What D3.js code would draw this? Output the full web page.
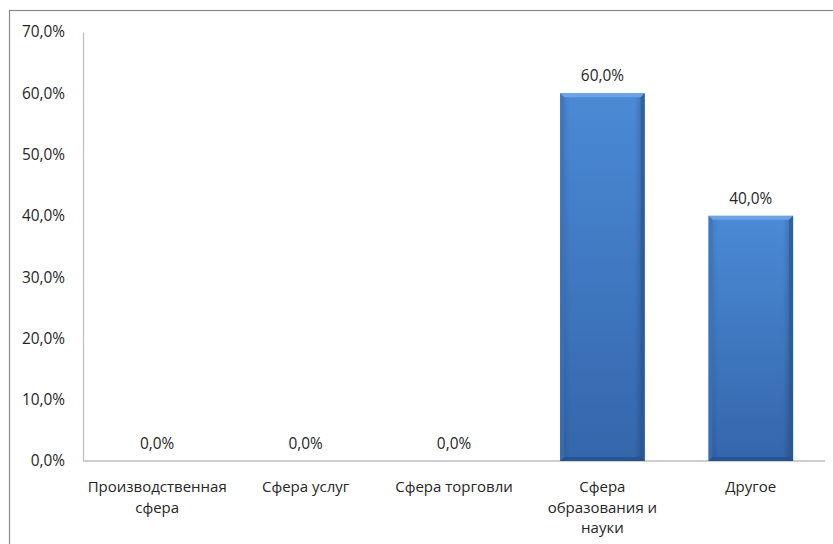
<!DOCTYPE html>
<html><head><meta charset="utf-8">
<script src="https://cdn.jsdelivr.net/npm/d3@7"></script>
<style>body{margin:0;background:#fff}svg{display:block}text{font-family:"Open Sans",sans-serif;fill:#262626}</style>
</head><body><svg id="c" width="833" height="544"></svg>
<script>
const categories = [["Производственная","сфера"],["Сфера услуг"],["Сфера торговли"],["Сфера","образования и","науки"],["Другое"]];
const values = [0, 0, 0, 60, 40];
const yTicks = [0,10,20,30,40,50,60,70];

const FS = 15.4;
const LFS = 15;
const svg = d3.select("#c");
const m = {left:83, right:825, top:32, bottom:461};
svg.append("rect").attr("x",9.5).attr("y",10.5).attr("width",840).attr("height",560).attr("fill","none").attr("stroke","#8a8a8a").attr("stroke-width",1.2);

const x = d3.scaleBand().domain(d3.range(values.length)).range([m.left,m.right]).paddingInner(0.43).paddingOuter(0.215);
const y = d3.scaleLinear().domain([0,70]).range([m.bottom,m.top]);
const fmt = v => v.toFixed(1).replace(".",",")+"%";

const defs = svg.append("defs");
const g1 = defs.append("linearGradient").attr("id","bg").attr("x1",0).attr("x2",0).attr("y1",0).attr("y2",1);
g1.append("stop").attr("offset","0%").attr("stop-color","#4b8ad6");
g1.append("stop").attr("offset","100%").attr("stop-color","#3466ab");
const g2 = defs.append("linearGradient").attr("id","bh").attr("x1",0).attr("x2",1).attr("y1",0).attr("y2",0);
g2.append("stop").attr("offset","0%").attr("stop-color","#000").attr("stop-opacity",0.12);
g2.append("stop").attr("offset","12%").attr("stop-color","#000").attr("stop-opacity",0);
g2.append("stop").attr("offset","88%").attr("stop-color","#000").attr("stop-opacity",0);
g2.append("stop").attr("offset","100%").attr("stop-color","#000").attr("stop-opacity",0.22);

// y axis
const yAxis = d3.axisLeft(y).tickValues(yTicks).tickFormat(fmt).tickSize(0).tickPadding(18);
const ya = svg.append("g").attr("transform",`translate(${m.left},0)`).call(yAxis);
ya.select(".domain").attr("stroke","#bfbfbf").attr("stroke-width",1.3);
ya.selectAll("text").attr("font-size",FS).attr("fill","#262626").attr("font-family","'Open Sans',sans-serif");

// x axis line
svg.append("line").attr("x1",m.left).attr("x2",m.right).attr("y1",y(0)).attr("y2",y(0)).attr("stroke","#bfbfbf").attr("stroke-width",1.3);

// bars
svg.selectAll(".bb").data(values.map((v,i)=>({v,i})).filter(d=>d.v>0)).join("g").each(function(d){
  const g = d3.select(this);
  const x0 = x(d.i), w = x.bandwidth(), y0 = y(d.v), h = y(0)-y(d.v), b = 4;
  g.append("rect").attr("x",x0).attr("y",y0).attr("width",w).attr("height",h).attr("fill","url(#bg)");
  g.append("rect").attr("x",x0).attr("y",y0).attr("width",w).attr("height",h).attr("fill","url(#bh)");
  g.append("path").attr("d",`M${x0},${y0}L${x0+w},${y0}L${x0+w-b},${y0+b}L${x0+b},${y0+b}Z`).attr("fill","#6fa6e6").attr("opacity",0.9);
  g.append("path").attr("d",`M${x0},${y0+h}L${x0+w},${y0+h}L${x0+w-b},${y0+h-b}L${x0+b},${y0+h-b}Z`).attr("fill","#24508c").attr("opacity",0.8);
  g.append("path").attr("d",`M${x0+w},${y0}L${x0+w},${y0+h}L${x0+w-b},${y0+h-b}L${x0+w-b},${y0+b}Z`).attr("fill","#2a5a99").attr("opacity",0.7);
  g.append("path").attr("d",`M${x0},${y0}L${x0},${y0+h}L${x0+b},${y0+h-b}L${x0+b},${y0+b}Z`).attr("fill","#3c74bd").attr("opacity",0.6);
});

// value labels
svg.append("g").selectAll("text").data(values).join("text")
  .attr("x",(d,i)=>x(i)+x.bandwidth()/2).attr("y",d=>y(d)-12)
  .attr("text-anchor","middle").attr("font-size",FS).text(fmt);

// category labels: one text per line
const lines = categories.flatMap((d,i)=>d.map((s,k)=>({s,i,k})));
svg.append("g").selectAll("text").data(lines).join("text")
  .attr("x",d=>x(d.i)+x.bandwidth()/2).attr("y",d=>492+d.k*20.5)
  .attr("text-anchor","middle").attr("font-size",LFS).text(d=>d.s);
</script></body></html>
